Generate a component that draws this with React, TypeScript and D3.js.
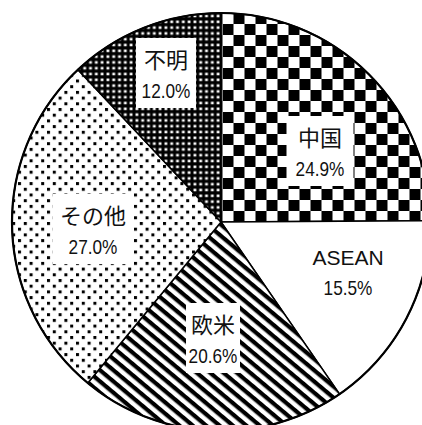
import React from "react";
import * as d3 from "d3";

const categories = ["中国", "ASEAN", "欧米", "その他", "不明"];
const values = [24.9, 15.5, 20.6, 27.0, 12.0];
const valueLabels = ["24.9%", "15.5%", "20.6%", "27.0%", "12.0%"];
const patterns = ["url(#checker)", "#ffffff", "url(#stripes)", "url(#dots)", "url(#grid)"];

// label anchor: center x, first baseline y, white box width (0 = no box)
const labelPos: [number, number, number][] = [
  [320, 146, 67],
  [348, 265, 0],
  [213, 333, 54],
  [93, 224, 80],
  [166, 68, 60],
];

const W = 422;
const H = 425;
const cx = 221;
const cy = 222;
const R = 209;

export default function App() {
  const pie = d3.pie<number>().sort(null).value((d) => d);
  const arcs = pie(values);
  const arcGen = d3.arc<d3.PieArcDatum<number>>().innerRadius(0).outerRadius(R);
  const jp = "'Noto Sans CJK JP', sans-serif";
  const num = "'Liberation Sans', Arial, sans-serif";
  return (
    <svg width={W} height={H} style={{ position: "absolute", left: 0, top: 0, background: "#fff" }}>
      <defs>
        <pattern id="checker" patternUnits="userSpaceOnUse" x={221.5} y={0} width={22} height={22}>
          <rect width={22} height={22} fill="#fff" />
          <rect x={0} y={0} width={11} height={11} fill="#000" />
          <rect x={11} y={11} width={11} height={11} fill="#000" />
        </pattern>
        <pattern id="stripes" patternUnits="userSpaceOnUse" width={20} height={8.6} patternTransform="rotate(40)">
          <rect width={20} height={8.6} fill="#fff" />
          <rect x={0} y={0} width={20} height={4.2} fill="#000" />
        </pattern>
        <pattern id="dots" patternUnits="userSpaceOnUse" width={11.6} height={11.4}>
          <rect width={11.6} height={11.4} fill="#fff" />
          <rect x={0} y={0} width={3} height={3} fill="#000" />
          <rect x={5.8} y={5.7} width={3} height={3} fill="#000" />
        </pattern>
        <pattern id="grid" patternUnits="userSpaceOnUse" width={5.8} height={5.8}>
          <rect width={5.8} height={5.8} fill="#000" />
          <rect x={1.5} y={1.5} width={2.8} height={2.6} fill="#fff" />
        </pattern>
      </defs>
      <g transform={`translate(${cx},${cy})`}>
        {arcs.map((a, i) => (
          <path key={i} d={arcGen(a) || ""} fill={patterns[i]} stroke="#000" strokeWidth={1.5} strokeLinejoin="round" />
        ))}
        <circle r={R} fill="none" stroke="#000" strokeWidth={2.2} />
      </g>
      {categories.map((c, i) => {
        const [x, y, bw] = labelPos[i];
        const isLatin = c === "ASEAN";
        return (
          <g key={c}>
            {bw > 0 && <rect x={x - bw / 2} y={y - 30} width={bw} height={70} fill="#fff" />}
            <text x={x} y={y} textAnchor="middle" fontFamily={isLatin ? num : jp} fontSize={isLatin ? 21 : 22} fill="#111">
              {c}
            </text>
            <text
              transform={`translate(${x},${y + 30}) scale(0.82,1)`}
              textAnchor="middle"
              fontFamily={num}
              fontSize={21}
              fill="#111"
            >
              {valueLabels[i]}
            </text>
          </g>
        );
      })}
    </svg>
  );
}
